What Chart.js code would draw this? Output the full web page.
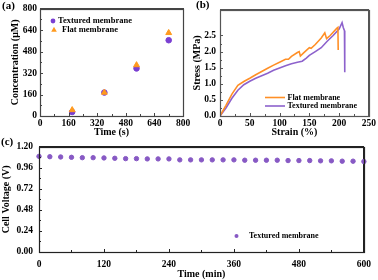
<!DOCTYPE html>
<html>
<head>
<meta charset="utf-8">
<script src="https://cdn.jsdelivr.net/npm/chart.js@4.4.0/dist/chart.umd.min.js"></script>
<style>
  body { margin: 0; background: #fff; width: 378px; height: 280px; position: relative; overflow: hidden; }
  canvas { position: absolute; }
</style>
</head>
<body>
<canvas id="chartA" width="195" height="140" style="left:0;top:0"></canvas>
<canvas id="chartB" width="190" height="140" style="left:188px;top:0"></canvas>
<canvas id="chartC" width="378" height="145" style="left:0;top:135px"></canvas>
<script>
// (a) concentration vs time
const timeA = [180, 360, 540, 720];
const concTextured = [30, 175, 355, 565];
const concFlat = [45, 175, 380, 620];

// (b) stress-strain curves
const strainFlat = [0, 10, 20, 30, 40, 50, 60, 70, 80, 90, 100, 110, 115, 120, 130, 133, 135, 140, 150, 153, 160, 170, 176, 179, 185, 190, 196, 198, 198.5];
const stressFlat = [0, 0.33, 0.68, 0.95, 1.07, 1.17, 1.28, 1.38, 1.48, 1.58, 1.67, 1.76, 1.76, 1.85, 1.97, 2.0, 1.86, 1.95, 2.12, 2.1, 2.22, 2.42, 2.58, 2.4, 2.5, 2.6, 2.72, 2.75, 2.05];
const strainTextured = [0, 10, 20, 30, 40, 50, 60, 70, 80, 90, 100, 110, 120, 130, 138, 145, 150, 160, 170, 180, 190, 200, 205, 207, 209, 209.5];
const stressTextured = [0, 0.25, 0.55, 0.8, 0.97, 1.08, 1.17, 1.25, 1.33, 1.42, 1.49, 1.56, 1.62, 1.67, 1.7, 1.8, 1.88, 2.0, 2.12, 2.32, 2.5, 2.7, 2.9, 2.75, 2.65, 1.36];

// (c) cell voltage vs time
const timeC = [0, 20, 40, 60, 80, 100, 120, 140, 160, 180, 200, 220, 240, 260, 280, 300, 320, 340, 360, 380, 400, 420, 440, 460, 480, 500, 520, 540, 560, 580, 600];
const voltage = [1.09, 1.086, 1.083, 1.079, 1.075, 1.075, 1.072, 1.068, 1.064, 1.064, 1.061, 1.061, 1.061, 1.05, 1.05, 1.05, 1.05, 1.05, 1.05, 1.046, 1.046, 1.046, 1.046, 1.042, 1.042, 1.042, 1.039, 1.039, 1.035, 1.035, 1.031];

const SERIF = '"Liberation Serif", "Times New Roman", serif';
const PURPLE = '#7a3fd2';
const ORANGE = '#ff9a1e';
const LINE_PURPLE = '#8d62cc';
const LINE_ORANGE = '#ff8f26';
const DOT_C = '#8759c4';

const pts = (xs, ys) => xs.map((x, i) => ({ x: x, y: ys[i] }));

// frame box, inward ticks, panel tag and small legend
function decor(frameColor, tag, legendSize, items) {
  return {
    id: 'decor',
    afterDraw(chart) {
      const ctx = chart.ctx;
      const a = chart.chartArea;
      ctx.save();
      ctx.globalAlpha = 1;
      ctx.setLineDash([]);
      ctx.strokeStyle = frameColor;
      ctx.lineWidth = 1.2;
      ctx.strokeRect(Math.round(a.left) + 0.5, Math.round(a.top) + 0.5, Math.round(a.right - a.left), Math.round(a.bottom - a.top));

      ctx.lineWidth = 1;
      ctx.beginPath();
      ['x', 'y'].forEach(id => {
        const sc = chart.scales[id];
        const vals = sc.ticks.map(t => t.value);
        const mark = (v, len) => {
          const p = Math.round(sc.getPixelForValue(v)) + 0.5;
          if (id === 'x') { ctx.moveTo(p, a.bottom); ctx.lineTo(p, a.bottom - len); }
          else { ctx.moveTo(a.left, p); ctx.lineTo(a.left + len, p); }
        };
        vals.forEach((v, i) => {
          mark(v, 3);
          if (i < vals.length - 1) mark((v + vals[i + 1]) / 2, 2);
        });
      });
      ctx.stroke();

      ctx.fillStyle = '#000';
      ctx.font = 'bold 11px ' + SERIF;
      ctx.textBaseline = 'top';
      ctx.fillText(tag.text, tag.x, tag.y);

      ctx.font = 'bold ' + legendSize + 'px ' + SERIF;
      ctx.textBaseline = 'middle';
      items.forEach(it => {
        ctx.fillStyle = it.color;
        ctx.strokeStyle = it.color;
        if (it.kind === 'circle') {
          ctx.beginPath(); ctx.arc(it.x, it.y, it.r, 0, Math.PI * 2); ctx.fill();
        } else if (it.kind === 'triangle') {
          ctx.beginPath();
          ctx.moveTo(it.x, it.y - it.r);
          ctx.lineTo(it.x + it.r, it.y + it.r * 0.8);
          ctx.lineTo(it.x - it.r, it.y + it.r * 0.8);
          ctx.closePath(); ctx.fill();
        } else {
          ctx.lineWidth = 1.6;
          ctx.beginPath(); ctx.moveTo(it.x, it.y); ctx.lineTo(it.x + it.len, it.y); ctx.stroke();
        }
        ctx.fillStyle = '#000';
        ctx.fillText(it.text, it.tx, it.y);
      });
      ctx.restore();
    }
  };
}

function axis(o) {
  const cfg = {
    type: 'linear',
    min: o.min, max: o.max,
    grid: { display: false, drawTicks: false },
    border: { display: true, color: o.frame, width: 1 },
    title: { display: true, text: o.title, color: '#000', font: { family: SERIF, size: 10, weight: 'bold' }, padding: o.tpad },
    ticks: {
      stepSize: o.step, color: '#000', padding: o.pad,
      font: { family: SERIF, size: 9.5, weight: 'bold' },
      maxRotation: 0, autoSkip: false
    },
    afterFit: s => { if (o.w) s.width = o.w; if (o.h) s.height = o.h; }
  };
  if (o.fmt) cfg.ticks.callback = o.fmt;
  if (o.keep) cfg.afterBuildTicks = s => { s.ticks = s.ticks.filter(t => t.value <= o.keep + 1e-6); };
  return cfg;
}

// empty top / right axes, only there to close the box
function edge(pos, color) {
  return {
    type: 'linear', position: pos, display: true,
    grid: { display: false, drawTicks: false },
    border: { display: true, color: color, width: 1 },
    ticks: { display: false },
    afterFit: s => { if (pos === 'top') s.height = 0; else s.width = 0; }
  };
}

Chart.defaults.animation = false;

new Chart(document.getElementById('chartA'), {
  type: 'scatter',
  data: {
    datasets: [
      { label: 'Textured membrane', data: pts(timeA, concTextured), pointStyle: 'circle', pointRadius: 2.8, backgroundColor: PURPLE, borderColor: PURPLE, order: 1, clip: false },
      { label: 'Flat membrane', data: pts(timeA, concFlat), pointStyle: 'triangle', pointRadius: 3.4, backgroundColor: ORANGE, borderColor: ORANGE, order: 0, clip: false }
    ]
  },
  options: {
    responsive: false,
    layout: { padding: { left: 0, right: 12, top: 7, bottom: 0 } },
    plugins: { legend: { display: false } },
    scales: {
      x: axis({ min: 0, max: 800, step: 160, title: 'Time (s)', pad: 2, h: 24, tpad: { top: 0, bottom: 2 }, frame: '#444' }),
      y: axis({ min: 0, max: 800, step: 160, title: 'Concentration (\u03bcM)', pad: 3, w: 40, tpad: { top: 9, bottom: 0 }, frame: '#444' }),
      x2: edge('top', '#444'),
      y2: edge('right', '#444')
    }
  },
  plugins: [decor('#444', { text: '(a)', x: 2, y: 1 }, 8.5, [
    { kind: 'circle', x: 53, y: 21, r: 2.4, color: PURPLE, text: 'Textured membrane', tx: 58 },
    { kind: 'triangle', x: 54, y: 29.5, r: 2.8, color: ORANGE, text: 'Flat membrane', tx: 62 }
  ])]
});

new Chart(document.getElementById('chartB'), {
  type: 'line',
  data: {
    datasets: [
      { label: 'Flat membrane', data: pts(strainFlat, stressFlat), borderColor: LINE_ORANGE, borderWidth: 1.6, pointRadius: 0, tension: 0, fill: false },
      { label: 'Textured membrane', data: pts(strainTextured, stressTextured), borderColor: LINE_PURPLE, borderWidth: 1.6, pointRadius: 0, tension: 0, fill: false }
    ]
  },
  options: {
    responsive: false,
    layout: { padding: { left: 0, right: 8, top: 6, bottom: 0 } },
    plugins: { legend: { display: false } },
    scales: {
      x: axis({ min: 0, max: 250, step: 50, title: 'Strain (%)', pad: 2, h: 24, tpad: { top: 0, bottom: 2 }, frame: '#555' }),
      y: axis({ min: 0, max: 3.3, step: 0.5, keep: 3.0, title: 'Stress (MPa)', pad: 4, w: 32, tpad: { top: 3, bottom: 0 }, frame: '#555', fmt: v => Number(v).toFixed(1) }),
      x2: edge('top', '#555'),
      y2: edge('right', '#555')
    }
  },
  plugins: [decor('#555', { text: '(b)', x: 8, y: 0 }, 8, [
    { kind: 'line', x: 77, y: 97.5, len: 20, color: LINE_ORANGE, text: 'Flat membrane', tx: 99.5 },
    { kind: 'line', x: 77, y: 106, len: 20, color: LINE_PURPLE, text: 'Textured membrane', tx: 99.5 }
  ])]
});

new Chart(document.getElementById('chartC'), {
  type: 'scatter',
  data: {
    datasets: [
      { label: 'Textured membrane', data: pts(timeC, voltage), pointStyle: 'circle', pointRadius: 2.2, backgroundColor: DOT_C, borderColor: DOT_C, clip: false }
    ]
  },
  options: {
    responsive: false,
    layout: { padding: { left: 0, right: 9, top: 8, bottom: 0 } },
    plugins: { legend: { display: false } },
    scales: {
      x: axis({ min: 0, max: 600, step: 120, title: 'Time (min)', pad: 7, h: 28, tpad: { top: 0, bottom: 0 }, frame: '#222' }),
      y: axis({ min: 0, max: 1.2, step: 0.24, title: 'Cell Voltage (V)', pad: 6, w: 39, tpad: { top: 0, bottom: 0 }, frame: '#222', fmt: v => Number(v).toFixed(2) }),
      x2: edge('top', '#222'),
      y2: edge('right', '#222')
    }
  },
  plugins: [decor('#222', { text: '(c)', x: 1, y: 2 }, 8, [
    { kind: 'circle', x: 236.5, y: 101, r: 2, color: DOT_C, text: 'Textured membrane', tx: 249 }
  ])]
});
</script>
</body>
</html>
